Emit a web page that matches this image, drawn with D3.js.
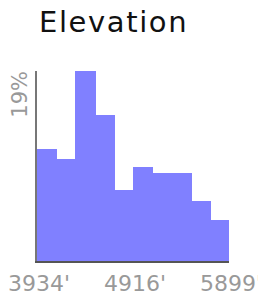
<!DOCTYPE html>
<html><head><meta charset="utf-8">
<script src="https://cdn.jsdelivr.net/npm/d3@7"></script>
<style>body{margin:0;background:#fff}svg{display:block}</style>
</head><body>
<script>
const title = "Elevation";
const binValues = [11.2, 10.2, 19.0, 14.6, 7.1, 9.4, 8.8, 8.8, 6.0, 4.1];
const xDomain = [3934, 5899];
const xTickValues = [3934, 4916, 5899];
const yMaxLabel = "19%";
const yMax = 19;

const W = 258, H = 296;
const plotLeft = 37, plotRight = 229, plotTop = 71, plotBase = 261;
const svg = d3.select("body").append("svg").attr("width", W).attr("height", H);
const font = "DejaVu Sans, sans-serif";

const binW = (xDomain[1] - xDomain[0]) / binValues.length;
const x = d3.scaleLinear().domain(xDomain).range([plotLeft, plotRight]);
const y = d3.scaleLinear().domain([0, yMax]).range([plotBase, plotTop]);

svg.append("text").attr("x", 39).attr("y", 32).attr("font-family", font)
  .attr("font-size", 29).attr("letter-spacing", 1.6).attr("fill", "#111").text(title);

svg.append("g").attr("shape-rendering", "crispEdges")
  .selectAll("rect").data(binValues).join("rect")
  .attr("x", (d, i) => Math.round(x(xDomain[0] + i * binW)))
  .attr("width", (d, i) => Math.round(x(xDomain[0] + (i + 1) * binW)) - Math.round(x(xDomain[0] + i * binW)) + (i < binValues.length - 1 ? 1 : 0))
  .attr("y", d => Math.round(y(d)))
  .attr("height", d => plotBase - Math.round(y(d)))
  .attr("fill", "#8080ff");

// axes
svg.append("line").attr("x1", 36).attr("x2", 36).attr("y1", plotTop).attr("y2", plotBase + 1)
  .attr("stroke", "#777").attr("stroke-width", 2);
svg.append("line").attr("x1", 35).attr("x2", plotRight).attr("y1", plotBase + 1).attr("y2", plotBase + 1)
  .attr("stroke", "#555").attr("stroke-width", 2);

svg.append("text").attr("transform", `translate(${27},${plotTop}) rotate(-90)`)
  .attr("text-anchor", "end").attr("font-family", font).attr("font-size", 21)
  .attr("fill", "#999").text(yMaxLabel);

svg.append("g").selectAll("text").data(xTickValues).join("text")
  .attr("x", d => x(d) + 2).attr("y", 291).attr("text-anchor", "middle")
  .attr("font-family", font).attr("font-size", 22).attr("fill", "#999")
  .text(d => d + "'");
</script>
</body></html>
